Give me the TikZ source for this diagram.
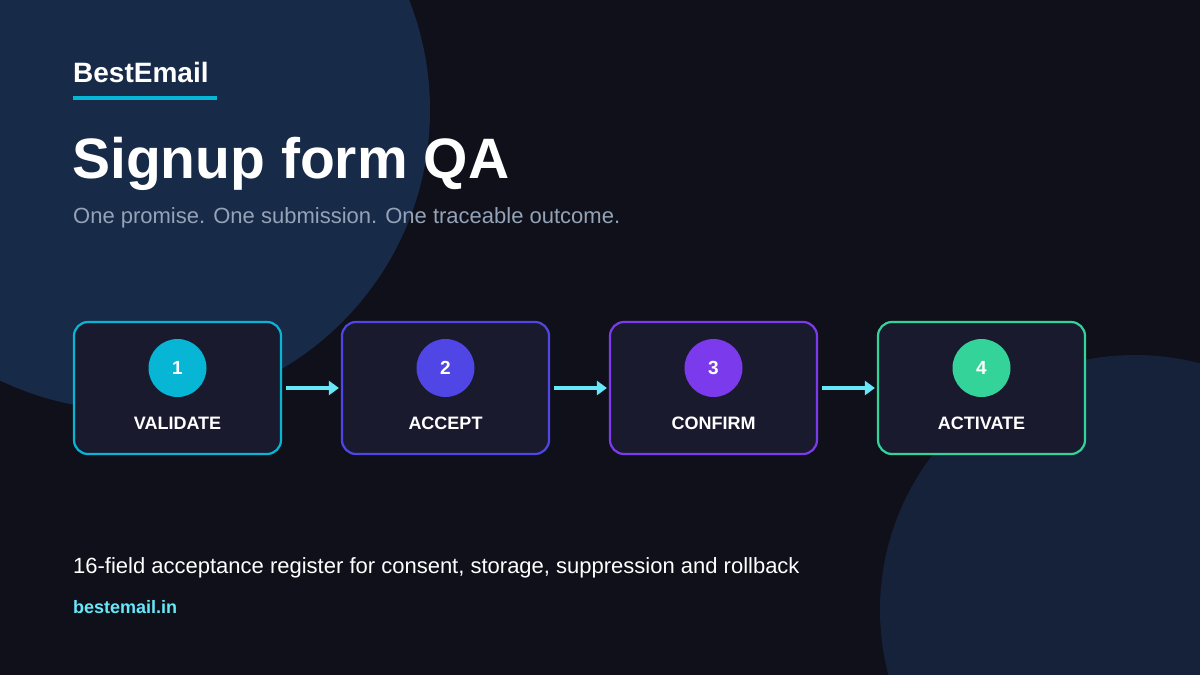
\documentclass[tikz,border=0pt]{standalone}
\usetikzlibrary{arrows.meta,calc}
\usepackage{fontspec}
\setmainfont{Liberation Sans}
\definecolor{bg}{HTML}{0F1019}
\definecolor{blobA}{HTML}{172A48}
\definecolor{blobB}{HTML}{16223A}
\definecolor{boxf}{HTML}{1A1A2E}
\definecolor{cA}{HTML}{06B6D4}
\definecolor{cB}{HTML}{4F46E5}
\definecolor{cC}{HTML}{7C3AED}
\definecolor{cD}{HTML}{34D399}
\definecolor{arr}{HTML}{67E8F9}
\definecolor{sub}{HTML}{94A3B8}
\begin{document}
\begin{tikzpicture}[x=1pt,y=-1pt,
  txt/.style={anchor=base west,inner sep=0pt,text=white},
  step/.style={draw=#1,line width=2.2pt,rounded corners=14pt,fill=boxf,minimum width=207pt,minimum height=132pt,inner sep=0pt},
  num/.style={circle,fill=#1,minimum size=58pt,inner sep=0pt,text=white,font=\bfseries\fontsize{19}{19}\selectfont},
  lab/.style={text=white,inner sep=0pt,font=\bfseries\fontsize{18}{18}\selectfont},
  conn/.style={draw=arr,line width=3.5pt,-{Triangle[length=10pt,width=14pt]}}]
\useasboundingbox (0,0) rectangle (1200,675);
\fill[bg] (0,0) rectangle (1200,675);
\begin{scope}
\clip (0,0) rectangle (1200,675);
\fill[blobA] (130,110) circle (300);
\fill[blobB] (1135,610) circle (255);
\end{scope}
\node[txt,font=\bfseries\fontsize{28}{28}\selectfont] (brand) at (73,82) {BestEmail};
\draw[cA,line width=4pt] (73,98) coordinate (u1) -- (217,98) coordinate (u2);
\node[txt,font=\bfseries\fontsize{57}{57}\selectfont] (title) at (72,178) {Signup form QA};
\node[txt,text=sub,font=\fontsize{22}{22}\selectfont] (subt) at (73,223) {One promise. One submission. One traceable outcome.};
\foreach \i/\c/\t in {0/cA/VALIDATE,1/cB/ACCEPT,2/cC/CONFIRM,3/cD/ACTIVATE}{
  \node[step=\c] (b\i) at (177.5+268*\i,388) {};
  \node[num=\c] (n\i) at (177.5+268*\i,368) {\the\numexpr\i+1\relax};
  \node[lab] (l\i) at (177.5+268*\i,423) {\t};
}
\draw[conn] ($(b0.east)+(4,0)$) -- ($(b1.west)+(-2,0)$);
\draw[conn] ($(b1.east)+(4,0)$) -- ($(b2.west)+(-2,0)$);
\draw[conn] ($(b2.east)+(4,0)$) -- ($(b3.west)+(-2,0)$);
\node[txt,font=\fontsize{22}{22}\selectfont] (foot) at (73,573) {16-field acceptance register for consent, storage, suppression and rollback};
\node[txt,text=arr,font=\bfseries\fontsize{18}{18}\selectfont] (url) at (73,613) {bestemail.in};
\end{tikzpicture}
\end{document}
